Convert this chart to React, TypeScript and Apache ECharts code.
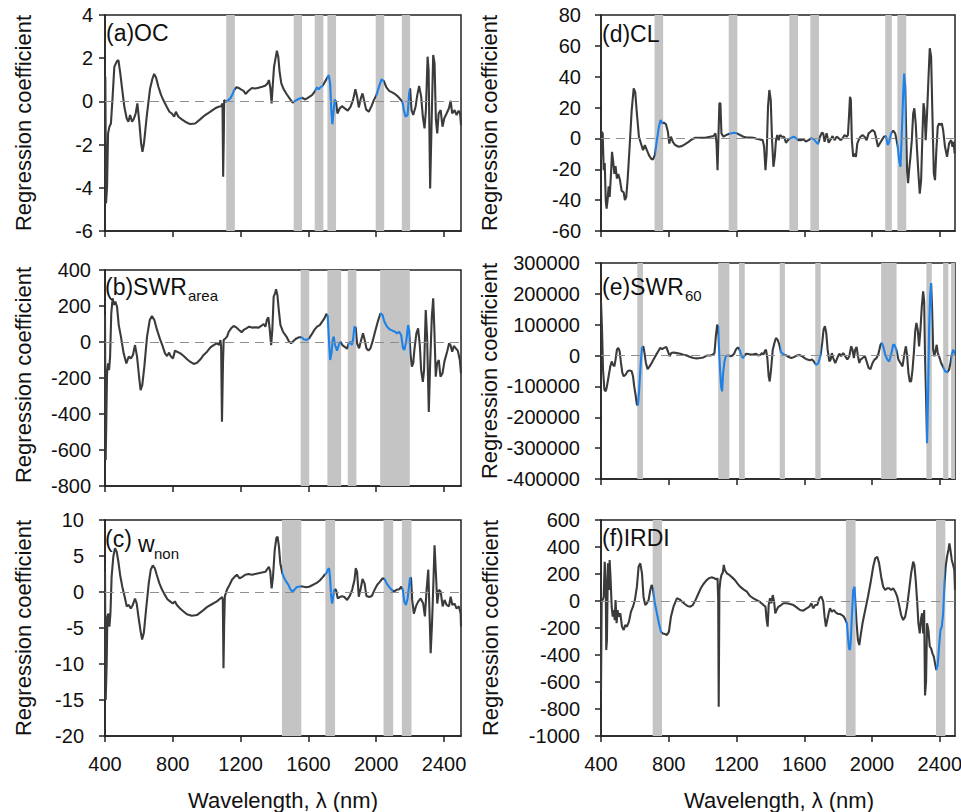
import React, { useEffect, useRef } from "react";
import * as echarts from "echarts";

// ---------------- DATA ----------------
const xTicks = [400, 800, 1200, 1600, 2000, 2400];

// (a) OC
const ocX = [402,406,412,418,426,435,445,455,469,479,489,502,514,528,538,548,560,571,581,591,603,613,621,630,646,666,680,690,701,715,731,749,764,780,794,808,818,833,853,873,902,932,961,991,1020,1050,1070,1085,1093,1097,1101,1103,1113,1127,1139,1150,1162,1174,1188,1202,1217,1229,1247,1267,1286,1306,1326,1345,1359,1367,1375,1383,1389,1397,1406,1414,1422,1430,1440,1454,1473,1493,1507,1523,1542,1562,1582,1601,1621,1637,1651,1661,1670,1682,1694,1706,1720,1728,1735,1741,1747,1755,1763,1771,1785,1798,1814,1832,1848,1863,1877,1887,1897,1909,1919,1928,1940,1956,1972,1986,2001,2015,2031,2045,2060,2076,2094,2114,2129,2143,2155,2163,2173,2185,2194,2200,2208,2218,2232,2242,2253,2265,2275,2285,2293,2303,2309,2318,2326,2336,2344,2352,2360,2368,2380,2391,2401,2415,2429,2439,2448,2462,2474,2486,2495,2500];
const ocY = [1.14,-4.72,-3.95,-1.48,-1.17,-1.02,0.22,1.6,1.84,1.91,1.37,0.52,-0.25,-0.79,-0.94,-0.63,-0.94,-0.79,-0.56,-0.09,-1.02,-1.94,-2.33,-1.94,-0.71,0.60,1.06,1.27,1.11,0.68,0.29,-0.02,-0.25,-0.48,-0.56,-0.71,-0.48,-0.71,-0.83,-0.94,-1.05,-1.02,-0.83,-0.63,-0.48,-0.32,-0.25,-0.22,-0.09,-3.49,-1.48,0.06,-0.02,0.06,0.14,0.29,0.52,0.65,0.63,0.56,0.49,0.34,0.49,0.62,0.60,0.63,0.68,0.73,0.83,0.99,0.65,-0.09,0.68,1.6,1.99,2.35,2.07,1.37,0.83,0.56,0.32,0.09,-0.06,0.03,0.11,0.17,0.09,0.19,0.29,0.45,0.65,0.56,0.65,0.71,0.86,1.02,1.22,0.83,-0.40,-1.05,-0.56,0.09,-0.02,-0.56,-0.32,-0.22,-0.32,-0.43,-0.25,0.06,0.56,0.22,-0.28,0.14,0.37,0.06,-0.37,-0.48,-0.22,0.06,0.29,0.65,1.02,0.94,0.65,0.49,0.42,0.32,0.22,0.09,-0.02,-0.40,-0.71,-0.63,0.37,0.60,-0.40,-0.63,-0.25,0.29,0.71,0.22,-0.71,-1.25,-0.40,2.07,1.45,-4.03,-1.17,2.15,1.76,-0.86,-1.48,-0.56,-0.40,-1.17,-0.79,-0.56,-0.32,0.03,-0.56,-0.40,-0.63,-0.43,-0.56,-1.10];
const ocBands = [[1115,1166],[1513,1562],[1637,1688],[1712,1763],[1997,2047],[2151,2200]];

// (b) SWR area
const swrAreaX = [400,404,412,418,424,430,437,445,453,461,471,481,494,510,526,540,553,565,577,589,601,610,620,632,648,664,677,691,707,723,738,754,766,778,789,801,813,825,845,864,884,904,923,943,963,982,1002,1022,1041,1061,1073,1081,1085,1090,1096,1100,1110,1120,1130,1144,1159,1175,1191,1206,1218,1234,1250,1267,1287,1307,1321,1336,1346,1356,1364,1372,1380,1387,1395,1403,1409,1417,1425,1435,1450,1470,1486,1498,1513,1529,1545,1559,1572,1588,1604,1620,1635,1651,1667,1681,1694,1706,1714,1722,1728,1736,1743,1749,1757,1769,1779,1789,1800,1812,1828,1838,1848,1856,1863,1871,1879,1887,1899,1911,1922,1932,1942,1954,1966,1978,1993,2009,2025,2037,2048,2064,2080,2096,2111,2123,2135,2147,2158,2166,2178,2188,2194,2202,2210,2218,2225,2237,2247,2257,2265,2275,2282,2292,2300,2310,2318,2328,2336,2343,2351,2359,2369,2379,2391,2402,2418,2430,2438,2448,2458,2469,2481,2493,2500];
const swrAreaY = [150,-656,-174,-119,-156,-81,159,243,206,224,196,94,30,-63,-119,-81,-91,-72,-17,-81,-193,-267,-239,-137,30,122,144,122,67,20,-17,-63,-78,-59,-81,-91,-48,-54,-63,-78,-96,-111,-122,-115,-96,-72,-54,-30,-17,-7,-17,11,-26,-443,-119,11,20,30,57,76,89,81,67,54,67,76,85,80,81,80,89,100,85,126,137,67,-17,67,252,270,293,261,178,94,57,30,2,-7,7,20,26,26,15,11,20,44,67,85,94,113,131,156,144,-7,-100,-63,11,30,-17,-48,-17,2,-17,-26,-37,-7,2,-17,11,85,80,-7,-35,11,48,11,-35,-48,-35,2,57,113,159,150,113,85,70,63,57,48,57,39,-35,-44,11,94,67,-63,-137,-119,-44,48,76,-17,-156,-222,-156,178,30,-389,-119,141,243,67,-193,-119,-100,-193,-174,-109,-54,-7,-17,-54,-22,-35,-48,-100,-174];
const swrAreaBands = [[1554,1605],[1712,1793],[1832,1883],[2023,2198]];

// (c) w_non
const wNonX = [400,404,410,414,420,426,432,439,449,459,469,479,489,502,516,528,540,552,564,577,587,597,609,619,629,642,658,670,682,694,705,721,737,753,768,784,800,812,824,843,863,883,912,942,971,1001,1030,1060,1080,1091,1095,1099,1103,1107,1119,1135,1149,1164,1178,1194,1210,1227,1247,1267,1286,1306,1326,1346,1355,1367,1375,1383,1391,1401,1411,1418,1426,1434,1446,1458,1470,1482,1493,1505,1517,1529,1543,1556,1572,1588,1604,1619,1635,1651,1667,1682,1696,1706,1714,1722,1728,1734,1740,1746,1753,1763,1773,1785,1799,1812,1828,1844,1858,1872,1879,1887,1897,1907,1919,1931,1942,1958,1974,1990,2006,2021,2037,2049,2061,2075,2088,2104,2120,2136,2147,2157,2165,2175,2185,2199,2205,2212,2222,2234,2248,2262,2277,2287,2297,2307,2315,2321,2329,2337,2344,2352,2360,2370,2380,2392,2403,2415,2429,2439,2449,2462,2474,2488,2498,2500];
const wNonY = [2.8,-15.0,-9.9,-3.4,-3.0,-4.8,-3.0,2.1,4.9,6.1,5.6,4.2,2.4,0.74,-0.65,-2.0,-1.8,-2.3,-1.8,-0.9,-1.6,-3.4,-5.3,-6.6,-5.7,-2.5,1.2,3.1,3.7,3.3,2.4,1.2,0.3,-0.4,-1.0,-1.3,-1.6,-1.3,-1.8,-2.3,-2.7,-3.1,-3.3,-3.2,-2.7,-2.1,-1.7,-1.3,-0.9,-0.7,-1.1,-10.6,-4.4,-0.6,0.3,1.0,1.7,2.1,2.4,1.9,2.1,2.4,2.5,2.4,2.5,2.6,2.7,2.8,3.1,3.5,2.8,0.5,2.1,5.8,7.5,7.7,6.3,4.0,2.6,1.9,1.4,1.0,0.4,0.05,0.3,0.65,0.74,0.8,0.74,0.65,0.74,0.9,1.1,1.3,1.6,2.0,2.4,2.6,3.1,3.3,1.9,-0.65,-1.6,-0.65,0.37,0.3,-0.9,-0.7,-0.6,-0.7,-1.1,-0.55,0.3,1.7,3.3,2.8,-0.65,0.3,1.8,1.2,-0.55,-0.7,-0.55,0.3,1.0,1.4,1.9,1.8,1.2,0.74,0.37,0.05,0.3,0.37,0.74,0.3,-1.3,-1.8,-0.9,1.9,2.0,-1.1,-3.0,-2.0,-1.3,-0.9,-1.6,-3.4,0.3,3.1,-3.4,-8.5,-4.4,1.2,6.5,2.6,-1.6,0.3,0.05,-2.0,-1.1,-1.8,-2.0,-0.65,-1.8,-1.6,-2.3,-2.0,-3.0,-4.8];
const wNonBands = [[1444,1558],[1700,1757],[2043,2100],[2151,2208]];

// (d) CL
const clX = [400,404,410,416,422,428,433,439,445,451,459,465,471,479,486,494,502,512,522,534,541,549,557,569,581,593,602,612,624,636,648,659,671,683,695,706,718,730,742,752,761,771,783,795,803,813,824,838,858,877,897,917,936,956,985,1015,1044,1064,1076,1082,1088,1094,1099,1105,1111,1123,1139,1154,1170,1186,1202,1221,1241,1261,1280,1300,1319,1339,1355,1363,1371,1378,1386,1394,1402,1410,1418,1426,1433,1441,1449,1457,1469,1481,1492,1504,1516,1528,1539,1551,1563,1579,1594,1610,1626,1642,1657,1669,1681,1693,1704,1712,1720,1732,1744,1756,1767,1779,1791,1803,1814,1826,1838,1850,1858,1864,1870,1875,1881,1889,1897,1905,1913,1921,1932,1944,1956,1968,1980,1991,2003,2015,2023,2035,2046,2058,2070,2082,2093,2101,2113,2125,2137,2145,2152,2160,2168,2176,2184,2190,2196,2202,2207,2213,2219,2227,2235,2243,2250,2258,2266,2274,2282,2290,2298,2304,2310,2317,2325,2333,2341,2349,2357,2365,2372,2380,2388,2396,2404,2412,2420,2431,2443,2455,2467,2475,2482,2488];
const clY = [-14,4.3,3.3,-20.6,-16,-40,-45.5,-40,-31,-38,-23,-8.7,-14,-23,-18,-26,-23,-27,-34,-35,-40,-38,-27,-5.4,18,32.5,30,16,1.1,-3.3,-7.6,-4.3,-7.6,-10.8,-13,-13.7,-10.8,-1.1,7.6,11.9,9.8,10.2,9.3,4.3,-3.3,1.1,-2.2,-4.3,-5.4,-5.0,-3.7,-2.2,-0.65,0.4,0.4,0.4,1.1,1.5,3.3,-3.3,-20.6,3.3,22.8,22.8,3.3,1.1,2.2,2.8,3.3,3.7,3.3,2.2,1.1,0.65,0.65,0.4,-0.2,-0.65,-1.1,-5.4,-20.6,-9.8,20.6,31.4,25,-1.1,-18.4,-11.9,-1.1,2.2,-1.1,2.2,1.1,1.1,-2.8,-1.1,0,0.65,1.1,0.2,-1.1,-1.1,-0.65,-2.0,-1.1,0.2,-0.65,-2.2,-3.7,1.1,3.7,3.3,-2.2,3.3,-2.8,-0.65,1.5,-1.1,1.1,0.2,-1.1,0,2.2,1.1,2.2,14,27,25,-1.1,-11.9,-9.8,-11.9,-3.3,-1.1,1.1,2.2,1.1,-1.1,3.3,4.3,5.4,4.3,1.1,-5.4,-3.3,-1.1,1.1,1.5,-4.3,-2.2,3.3,5.0,3.3,-1.1,-5.4,-14,-18.4,3.3,29,42,33.6,3.3,-20.6,-29,-20.6,-11.9,-1.1,16,19.5,9.8,-7.6,-22.8,-35.8,-27,3.3,22.8,18.4,-1.1,16,38,58.5,53,14,-22.8,-27,-7.6,7.6,9.8,8.7,9.8,5.4,-5.4,-11.9,-3.3,-1.1,-5.4,-2.2,-9.8];
const clBands = [[716,767],[1154,1205],[1512,1563],[1636,1687],[2078,2117],[2150,2202]];

// (e) SWR 60
const swr60X = [400,406,412,420,428,435,445,455,463,471,479,486,494,502,510,518,526,534,545,557,569,581,589,596,604,612,618,624,630,636,642,650,657,665,675,687,699,710,726,738,750,761,773,785,795,805,815,828,848,868,887,907,927,946,966,985,1005,1025,1044,1060,1070,1078,1086,1092,1097,1103,1109,1115,1121,1129,1137,1144,1156,1166,1176,1186,1196,1205,1213,1221,1229,1237,1245,1257,1270,1284,1300,1316,1327,1339,1351,1359,1367,1374,1382,1390,1396,1404,1414,1424,1433,1443,1453,1463,1473,1484,1496,1508,1524,1539,1555,1571,1587,1602,1618,1634,1646,1657,1669,1681,1689,1697,1706,1714,1722,1730,1738,1748,1756,1763,1771,1783,1795,1807,1818,1830,1842,1854,1866,1877,1885,1893,1901,1909,1917,1925,1932,1944,1958,1968,1980,1991,2003,2015,2027,2038,2050,2058,2066,2078,2090,2101,2113,2125,2133,2145,2156,2168,2180,2192,2200,2207,2215,2223,2231,2239,2247,2255,2262,2270,2278,2286,2294,2302,2308,2313,2319,2325,2331,2337,2343,2349,2355,2361,2368,2376,2382,2388,2396,2408,2420,2431,2443,2455,2463,2471,2479,2488,2490];
const swr60Y = [175e3,84e3,-46e3,-110e3,-116e3,-100e3,-67e3,-35e3,-19e3,-30e3,-35e3,-13e3,19e3,25e3,14e3,-24e3,-56e3,-67e3,-62e3,-51e3,-48e3,-51e3,-67e3,-100e3,-127e3,-159e3,-161e3,-121e3,-67e3,-13e3,25e3,30e3,8e3,-24e3,-44e3,-35e3,-24e3,-13e3,3e3,14e3,25e3,21e3,25e3,28e3,14e3,-2e3,8e3,10e3,8e3,6e3,3e3,0,-5e3,-8e3,-9e3,-8e3,-6e3,0,0,3e3,8e3,62e3,100e3,95e3,19e3,-46e3,-100e3,-116e3,-56e3,-19e3,-2e3,0,0,-2e3,0,6e3,19e3,25e3,25e3,14e3,0,-8e3,-2e3,6e3,5e3,3e3,4e3,6e3,0,2e3,8e3,3e3,14e3,19e3,-8e3,-67e3,-84e3,-46e3,19e3,41e3,57e3,51e3,35e3,10e3,6e3,2e3,0,-5e3,-8e3,-5e3,0,2e3,-2e3,-8e3,-13e3,-15e3,-13e3,-19e3,-30e3,-26e3,-13e3,3e3,41e3,84e3,95e3,73e3,19e3,-19e3,-13e3,8e3,-8e3,-24e3,-8e3,6e3,-2e3,8e3,-2e3,-13e3,-2e3,30e3,19e3,-8e3,19e3,28e3,-2e3,-24e3,-13e3,-8e3,-2e3,-19e3,-40e3,-44e3,-24e3,-13e3,-8e3,6e3,35e3,41e3,30e3,3e3,-13e3,-19e3,3e3,35e3,35e3,17e3,-13e3,-24e3,-35e3,8e3,30e3,3e3,-56e3,-84e3,-84e3,-46e3,8e3,78e3,106e3,84e3,30e3,84e3,159e3,208e3,176e3,-2e3,-132e3,-284e3,-132e3,84e3,192e3,235e3,149e3,19e3,-2e3,19e3,35e3,8e3,-2e3,-24e3,-37e3,-51e3,-54e3,-46e3,-24e3,3e3,19e3,8e3,3e3];
const swr60Bands = [[614,648],[1092,1158],[1215,1249],[1455,1486],[1665,1697],[2054,2145],[2321,2353],[2420,2451],[2467,2494]];

// (f) IRDI
const irdiX = [400,404,410,416,422,428,431,435,441,447,451,457,463,469,475,481,486,492,498,504,514,524,534,543,553,565,577,589,600,612,622,632,642,651,661,671,681,691,699,706,718,730,742,754,765,777,789,801,813,828,848,864,879,895,911,927,942,958,974,989,1005,1021,1037,1052,1068,1080,1088,1092,1095,1099,1105,1111,1119,1125,1131,1143,1158,1174,1190,1205,1221,1241,1261,1280,1300,1319,1339,1359,1371,1378,1384,1390,1398,1406,1414,1422,1429,1437,1447,1457,1477,1496,1516,1536,1555,1575,1594,1614,1630,1642,1653,1665,1677,1689,1701,1712,1720,1728,1736,1744,1752,1763,1775,1787,1799,1811,1822,1834,1844,1852,1858,1864,1870,1875,1881,1889,1897,1901,1909,1917,1925,1932,1944,1960,1976,1991,2007,2019,2031,2042,2054,2066,2078,2090,2101,2113,2125,2137,2149,2160,2172,2184,2196,2207,2219,2231,2243,2250,2258,2266,2274,2282,2290,2296,2302,2308,2313,2319,2325,2333,2341,2349,2357,2365,2372,2380,2388,2396,2404,2412,2420,2428,2435,2443,2451,2457,2463,2471,2479,2486,2490];
const irdiY = [-659,7,7,32,291,131,-363,-289,279,81,304,156,-42,-116,-67,-141,7,-165,-67,-116,-91,-190,-215,-178,-190,-153,-79,-42,7,106,254,279,205,32,-30,-17,7,81,119,94,-17,-91,-165,-227,-240,-244,-252,-227,-116,-42,20,12,-5,-22,-37,-42,-30,7,52,94,126,151,168,175,170,160,168,7,-783,81,156,193,210,267,230,205,193,175,156,131,106,86,69,37,20,7,-7,-30,-42,-141,-190,-30,20,-17,44,-5,-91,-67,-42,-37,-17,-17,-22,-30,-47,-67,-72,-54,-42,-17,-54,-30,-30,20,32,-5,-116,-190,-141,-91,-54,-79,-67,-86,-96,-96,-104,-116,-141,-165,-264,-351,-363,-289,-116,81,106,7,-165,-289,-326,-264,-165,-67,32,131,254,316,328,279,180,106,81,94,94,81,94,69,32,-30,-104,-141,-116,-42,81,205,291,267,156,7,-165,-240,-128,-91,-240,-67,-700,-600,-165,-215,-338,-351,-388,-412,-462,-511,-474,-338,-215,-190,-91,131,254,328,378,427,378,304,267,230,81];
const irdiBands = [[705,760],[1846,1903],[2378,2433]];

// y axis ranges [min, max, interval]
const yRanges = [
  [-6, 4, 2],
  [-800, 400, 200],
  [-20, 10, 5],
  [-60, 80, 20],
  [-400000, 300000, 100000],
  [-1000, 600, 200],
];

// ---------------- STYLE / LAYOUT ----------------
const FONT = "'Liberation Sans', Arial, Helvetica, sans-serif";
const DARK = "#3b3b3b";
const BLUE = "#1f80e6";
const BAND = "#c4c4c4";
const AX = "#222222";
const TXT = "#111111";

const grids = [
  { left: 105, top: 15, width: 356, height: 216, xMax: 2500, labelMargin: 12, showX: false },
  { left: 105, top: 270, width: 356, height: 216, xMax: 2500, labelMargin: 14, showX: false },
  { left: 105, top: 520, width: 356, height: 216, xMax: 2500, labelMargin: 21, showX: true },
  { left: 601, top: 15, width: 354, height: 216, xMax: 2490, labelMargin: 20, showX: false },
  { left: 601, top: 263, width: 354, height: 216, xMax: 2490, labelMargin: 21, showX: false },
  { left: 601, top: 520, width: 354, height: 216, xMax: 2490, labelMargin: 21, showX: true },
];

const seriesData = [
  { xs: ocX, ys: ocY, bands: ocBands },
  { xs: swrAreaX, ys: swrAreaY, bands: swrAreaBands },
  { xs: wNonX, ys: wNonY, bands: wNonBands },
  { xs: clX, ys: clY, bands: clBands },
  { xs: swr60X, ys: swr60Y, bands: swr60Bands },
  { xs: irdiX, ys: irdiY, bands: irdiBands },
];

const panelLabels = [
  { text: "(a)OC", x: 106, y: 33, size: 23 },
  { text: "(b)SWR", x: 105, y: 287, size: 23 },
  { text: "area", x: 188, y: 295, size: 15 },
  { text: "(c)", x: 105, y: 539, size: 23 },
  { text: "w", x: 138, y: 544, size: 23 },
  { text: "non", x: 154, y: 553, size: 15 },
  { text: "(d)CL", x: 602, y: 34, size: 23 },
  { text: "(e)SWR", x: 602, y: 287, size: 23 },
  { text: "60", x: 685, y: 295, size: 15 },
  { text: "(f)IRDI", x: 602, y: 538, size: 23 },
];

const yTitles = [
  { x: 23, y: 123 },
  { x: 23, y: 375 },
  { x: 23, y: 628 },
  { x: 489, y: 123 },
  { x: 489, y: 371 },
  { x: 490, y: 628 },
];

const xTitles = [
  { x: 283, y: 800 },
  { x: 779, y: 800 },
];

const plain = (v: number) => String(v);

function buildOption() {
  const grid: any[] = [];
  const xAxis: any[] = [];
  const yAxis: any[] = [];
  const series: any[] = [];
  const visualMap: any[] = [];

  grids.forEach((g, i) => {
    grid.push({
      left: g.left,
      top: g.top,
      width: g.width,
      height: g.height,
      show: true,
      borderColor: AX,
      borderWidth: 1.5,
      backgroundColor: "transparent",
      containLabel: false,
      outerBoundsMode: "none",
    });
    xAxis.push({
      gridIndex: i,
      type: "value",
      min: 400,
      max: g.xMax,
      interval: 400,
      axisLine: { show: true, onZero: false, lineStyle: { color: AX, width: 1.5 } },
      axisTick: { show: true, inside: false, length: 6, customValues: xTicks, lineStyle: { color: AX, width: 1.5 } },
      axisLabel: {
        show: g.showX,
        customValues: xTicks,
        formatter: plain,
        margin: 18,
        fontSize: 20,
        color: TXT,
        fontFamily: FONT,
      },
      splitLine: { show: false },
    });
    const [mn, mx, step] = yRanges[i];
    yAxis.push({
      gridIndex: i,
      type: "value",
      min: mn,
      max: mx,
      interval: step,
      axisLine: { show: true, onZero: false, lineStyle: { color: AX, width: 1.5 } },
      axisTick: { show: true, inside: false, length: 6, lineStyle: { color: AX, width: 1.5 } },
      axisLabel: { formatter: plain, margin: g.labelMargin, fontSize: 20, color: TXT, fontFamily: FONT },
      splitLine: { show: false },
    });

    const d = seriesData[i];
    const bands = d.bands.map(([s, e]) => [s, Math.min(e, g.xMax)]);
    series.push({
      type: "line",
      xAxisIndex: i,
      yAxisIndex: i,
      data: d.xs.map((x, j) => [x, d.ys[j]]),
      showSymbol: false,
      symbol: "none",
      silent: true,
      z: 3,
      lineStyle: { width: 2.1 },
      markArea: {
        silent: true,
        itemStyle: { color: BAND, borderWidth: 0 },
        data: bands.map(([s, e]) => [{ xAxis: s }, { xAxis: e }]),
      },
      markLine: {
        silent: true,
        symbol: ["none", "none"],
        label: { show: false },
        lineStyle: { type: [9, 6], color: "#8f8f8f", width: 1.2 },
        data: [{ yAxis: 0 }],
      },
    });
    visualMap.push({
      type: "piecewise",
      show: false,
      seriesIndex: i,
      dimension: 0,
      pieces: bands.map(([s, e]) => ({ gte: s, lte: e, color: BLUE })),
      outOfRange: { color: DARK },
    });
  });

  const graphic: any[] = [];
  panelLabels.forEach((l) => {
    graphic.push({
      type: "text",
      x: l.x,
      y: l.y,
      z: 100,
      silent: true,
      style: {
        text: l.text,
        fontSize: l.size,
        fontFamily: FONT,
        fill: TXT,
        align: "left",
        verticalAlign: "middle",
      },
    });
  });
  yTitles.forEach((t) => {
    graphic.push({
      type: "text",
      x: t.x,
      y: t.y,
      z: 100,
      rotation: Math.PI / 2,
      silent: true,
      style: {
        text: "Regression coefficient",
        fontSize: 22,
        fontFamily: FONT,
        fill: TXT,
        align: "center",
        verticalAlign: "middle",
      },
    });
  });
  xTitles.forEach((t) => {
    graphic.push({
      type: "text",
      x: t.x,
      y: t.y,
      z: 100,
      silent: true,
      style: {
        text: "Wavelength, λ (nm)",
        fontSize: 22,
        fontFamily: FONT,
        fill: TXT,
        align: "center",
        verticalAlign: "middle",
      },
    });
  });

  return {
    animation: false,
    backgroundColor: "#ffffff",
    grid,
    xAxis,
    yAxis,
    series,
    visualMap,
    graphic,
  };
}

export default function App() {
  const ref = useRef<HTMLDivElement>(null);
  useEffect(() => {
    if (!ref.current) return;
    const chart = echarts.init(ref.current, null, { renderer: "svg" });
    chart.setOption(buildOption() as any);
    return () => {
      chart.dispose();
    };
  }, []);
  return (
    <div
      ref={ref}
      style={{ position: "absolute", left: 0, top: 0, width: 961, height: 812, background: "#fff" }}
    />
  );
}
